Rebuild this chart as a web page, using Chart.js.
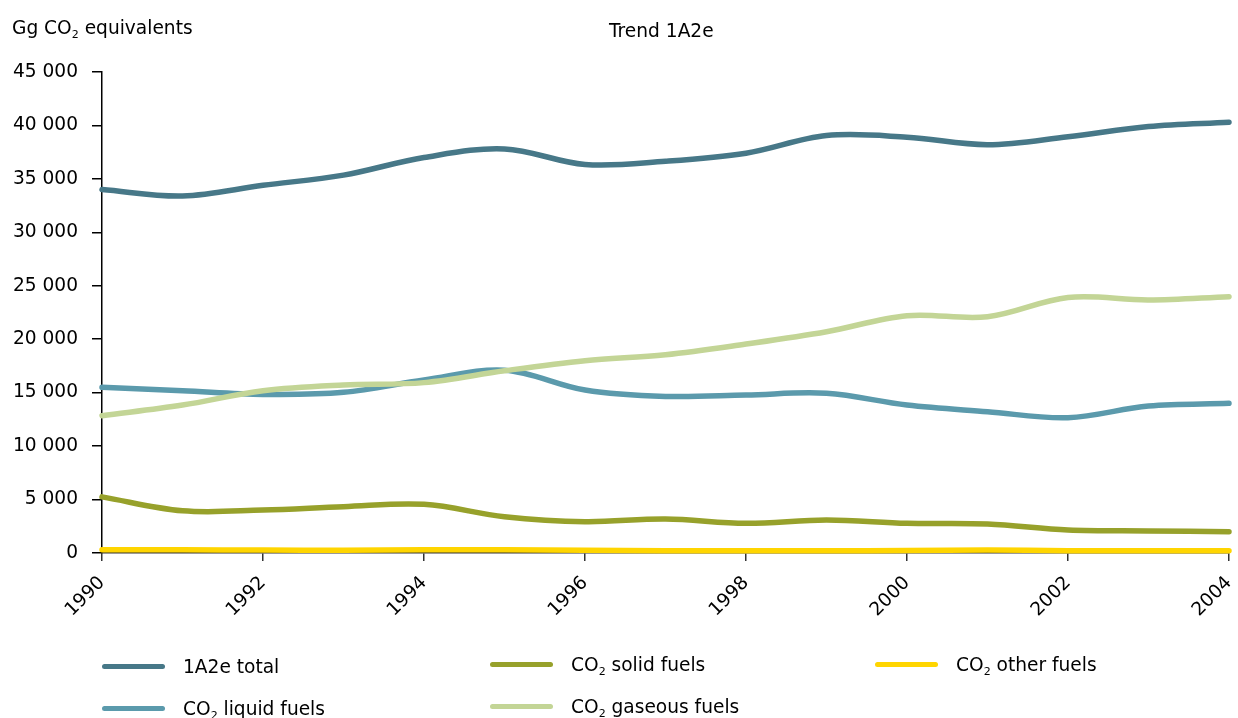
<!DOCTYPE html>
<html>
<head>
<meta charset="utf-8">
<script src="https://cdn.jsdelivr.net/npm/chart.js@4.4.1/dist/chart.umd.min.js"></script>
<style>
  html, body { margin: 0; padding: 0; background: #fff; }
  #wrap { position: relative; width: 1238px; height: 718px; overflow: hidden; font-family: "DejaVu Sans", Verdana, sans-serif; color: #000; }
  #c { position: absolute; left: 0; top: 0; }
  .txt { position: absolute; font-size: 18.6px; white-space: nowrap; }
  sub { font-size: 11px; vertical-align: -4px; line-height: 0; }
  .leg { position: absolute; display: flex; align-items: center; font-size: 18.6px; white-space: nowrap; }
  .leg .sw { width: 63px; height: 5px; border-radius: 3px; margin-right: 18px; }
</style>
</head>
<body>
<div id="wrap">
  <canvas id="c" width="1238" height="718"></canvas>
  <div class="txt" style="left:12px; top:17px;">Gg CO<sub>2</sub> equivalents</div>
  <div class="txt" style="left:609px; top:20px;">Trend 1A2e</div>
  <div id="legend"></div>
</div>
<script>
const years = [1990,1991,1992,1993,1994,1995,1996,1997,1998,1999,2000,2001,2002,2003,2004];
const yTicks = [0,5000,10000,15000,20000,25000,30000,35000,40000,45000];
const xTickLabels = [1990,1992,1994,1996,1998,2000,2002,2004];

const total   = [34000,33400,34400,35350,37000,37800,36350,36650,37400,39050,38900,38200,38950,39900,40300];
const liquid  = [15500,15180,14840,15030,16180,17100,15250,14650,14780,14940,13840,13220,12660,13750,14000];
const solid   = [5250,3950,4020,4330,4550,3400,2930,3180,2780,3090,2780,2710,2150,2060,1990];
const gaseous = [12840,13840,15180,15720,15940,17050,17990,18550,19550,20700,22200,22100,23900,23670,23980];
const other   = [300,300,280,260,300,300,250,220,220,220,230,280,220,220,220];

const seriesNames  = ['1A2e total','CO₂ liquid fuels','CO₂ solid fuels','CO₂ gaseous fuels','CO₂ other fuels'];
const seriesColors = ['#477888','#5b9aac','#97a12b','#c3d596','#ffd500'];
const seriesValues = [total, liquid, solid, gaseous, other];

const fmt = v => String(v).replace(/\B(?=(\d{3})+(?!\d))/g, ' ');
const tickFont = { family: '"DejaVu Sans", Verdana, sans-serif', size: 18.6 };

const datasets = seriesValues.map((vals, i) => ({
  label: seriesNames[i],
  data: vals.map((v, j) => ({ x: years[j], y: v })),
  borderColor: seriesColors[i],
  backgroundColor: seriesColors[i],
  borderWidth: 5.5,
  pointRadius: 0,
  tension: 0.35,
  borderCapStyle: 'round',
  borderJoinStyle: 'round',
  fill: false,
  clip: false,
  order: i === 4 ? 0 : 5 - i
}));

new Chart(document.getElementById('c'), {
  type: 'line',
  data: { datasets },
  options: {
    responsive: false,
    animation: false,
    layout: { padding: { left: 0, right: 9, top: 72, bottom: 0 } },
    plugins: { legend: { display: false }, tooltip: { enabled: false }, title: { display: false } },
    scales: {
      x: {
        type: 'linear',
        min: years[0], max: years[years.length - 1],
        afterBuildTicks: s => { s.ticks = xTickLabels.map(v => ({ value: v })); },
        ticks: {
          callback: v => String(v),
          minRotation: 45, maxRotation: 45,
          color: '#000',
          font: tickFont,
          padding: 11
        },
        grid: { drawOnChartArea: false, drawTicks: true, tickLength: 8, color: '#333', lineWidth: 1.5 },
        border: { display: true, color: '#333', width: 1.5 },
        afterFit: s => { s.height = 165; s.paddingRight = 0; s.paddingLeft = 0; }
      },
      y: {
        type: 'linear',
        min: yTicks[0], max: yTicks[yTicks.length - 1],
        afterBuildTicks: s => { s.ticks = yTicks.map(v => ({ value: v })); },
        ticks: {
          callback: v => fmt(v),
          color: '#000',
          font: tickFont,
          padding: 14
        },
        grid: { drawOnChartArea: false, drawTicks: true, tickLength: 10, color: '#000', lineWidth: 1.5 },
        border: { display: true, color: '#000', width: 1.5 },
        afterFit: s => { s.width = 102; }
      }
    }
  }
});

// HTML legend, column-major layout as in the reference
const legPos = [[102,656],[102,698],[490,654],[490,696],[875,654]];
const legend = document.getElementById('legend');
seriesNames.forEach((name, i) => {
  const d = document.createElement('div');
  d.className = 'leg';
  d.style.left = legPos[i][0] + 'px';
  d.style.top = legPos[i][1] + 'px';
  const sw = document.createElement('div');
  sw.className = 'sw';
  sw.style.background = seriesColors[i];
  const t = document.createElement('span');
  t.innerHTML = name.replace('CO₂', 'CO<sub>2</sub>');
  d.appendChild(sw); d.appendChild(t);
  legend.appendChild(d);
});
</script>
</body>
</html>
